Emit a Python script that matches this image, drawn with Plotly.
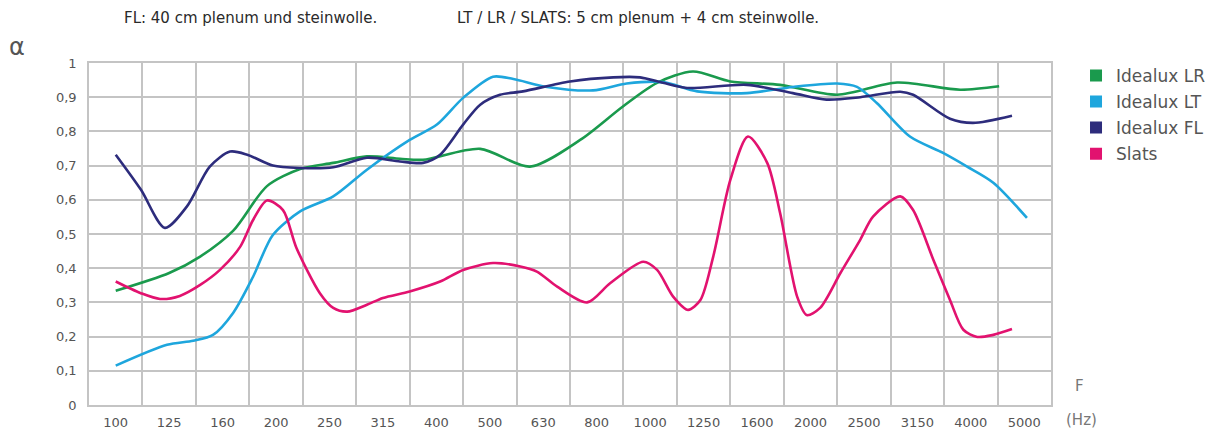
import plotly.graph_objects as go

# Frequency bands (Hz) shown on the x axis
bands = ["100", "125", "160", "200", "250", "315", "400", "500", "630", "800",
         "1000", "1250", "1600", "2000", "2500", "3150", "4000", "5000"]
alpha_ticks = [0, 0.1, 0.2, 0.3, 0.4, 0.5, 0.6, 0.7, 0.8, 0.9, 1]
alpha_labels = ["0", "0,1", "0,2", "0,3", "0,4", "0,5", "0,6", "0,7", "0,8", "0,9", "1"]

# Positions are in band units (0 = 100 Hz band, 1 = 125 Hz band, ...)
lr_x = [0, 1, 1.58, 2.2, 2.83, 3.45, 4.07, 4.7, 5.32, 5.75, 6.82, 7.75, 8.69, 9.49,
        10.13, 10.8, 11.5, 12.43, 13.5, 14.62, 15.8, 16.53]
lr_y = [0.334, 0.386, 0.434, 0.51, 0.64, 0.69, 0.708, 0.727, 0.72, 0.717, 0.749, 0.697,
        0.775, 0.873, 0.942, 0.975, 0.946, 0.936, 0.907, 0.943, 0.922, 0.932]

lt_x = [0, 0.96, 1.45, 1.82, 2.2, 2.57, 2.94, 3.45, 4.07, 4.7, 5.5, 6.01, 6.5, 7.06,
        7.44, 8.07, 8.93, 9.56, 10.24, 10.88, 11.81, 12.67, 13.5, 13.87, 14.24, 14.86,
        15.48, 15.93, 16.42, 17.05]
lt_y = [0.115, 0.176, 0.188, 0.205, 0.27, 0.375, 0.497, 0.566, 0.61, 0.688, 0.775, 0.82,
        0.898, 0.96, 0.953, 0.93, 0.92, 0.94, 0.944, 0.917, 0.912, 0.93, 0.94, 0.93,
        0.883, 0.785, 0.737, 0.697, 0.65, 0.547]

fl_x = [0, 0.47, 0.92, 1.33, 1.76, 2.14, 2.46, 2.94, 3.45, 4.07, 4.7, 5.32, 5.75, 6.07,
        6.5, 6.82, 7.19, 7.62, 8.5, 9.31, 9.81, 10.24, 10.69, 11.81, 12.67, 13.3, 13.93,
        14.68, 14.92, 15.61, 16.04, 16.77]
fl_y = [0.732, 0.63, 0.518, 0.58, 0.697, 0.741, 0.732, 0.70, 0.693, 0.695, 0.723, 0.712,
        0.708, 0.732, 0.82, 0.878, 0.907, 0.917, 0.946, 0.958, 0.958, 0.942, 0.927, 0.936,
        0.912, 0.893, 0.9, 0.916, 0.907, 0.837, 0.825, 0.846]

slats_x = [0, 0.47, 0.83, 1.2, 1.58, 1.95, 2.33, 2.57, 2.83, 3.13, 3.38, 3.82, 4.07,
           4.33, 4.7, 5.0, 5.5, 6.07, 6.5, 7.06, 7.57, 7.88, 8.26, 8.82, 9.25, 9.87, 10.13,
           10.43, 10.71, 10.94, 11.18, 11.5, 11.83, 12.19, 12.43, 12.75, 12.93, 13.18, 13.56,
           13.93, 14.17, 14.68, 14.92, 15.3, 15.61, 15.86, 16.12, 16.42, 16.77]
slats_y = [0.361, 0.327, 0.31, 0.319, 0.351, 0.395, 0.463, 0.541, 0.598, 0.57, 0.46,
           0.327, 0.284, 0.273, 0.293, 0.313, 0.332, 0.361, 0.395, 0.415, 0.405, 0.39, 0.346,
           0.30, 0.356, 0.419, 0.395, 0.317, 0.278, 0.307, 0.434, 0.658, 0.785, 0.708, 0.562,
           0.317, 0.263, 0.284, 0.386, 0.483, 0.551, 0.61, 0.57, 0.424, 0.307, 0.22, 0.199,
           0.205, 0.222]

series = [
    ("Idealux LR", lr_x, lr_y, "#1a9a4d"),
    ("Idealux LT", lt_x, lt_y, "#1ea6dd"),
    ("Idealux FL", fl_x, fl_y, "#2d2c7c"),
    ("Slats", slats_x, slats_y, "#e2126f"),
]

FONT = "DejaVu Sans, sans-serif"
GRID = "#c4c4c4"

fig = go.Figure()
for name, xs, ys, col in series:
    fig.add_trace(go.Scatter(x=xs, y=ys, mode="lines",
                             line=dict(color=col, width=2.6, shape="spline", smoothing=0.8),
                             showlegend=False, hoverinfo="skip"))
for name, xs, ys, col in series:
    fig.add_trace(go.Scatter(x=[None], y=[None], mode="markers", name=name, legendgroup=name,
                             marker=dict(symbol="square", size=12, color=col)))

fig.update_layout(
    width=1219, height=429,
    margin=dict(l=81, r=176, t=55, b=32, autoexpand=False),
    paper_bgcolor="white", plot_bgcolor="white",
    font=dict(family=FONT, color="#555555"),
    legend=dict(x=1.026, y=1.015, xanchor="left", yanchor="top",
                font=dict(size=17, color="#555555", family=FONT), itemwidth=30, tracegroupgap=1,
                bgcolor="rgba(0,0,0,0)"),
    showlegend=True,
)
fig.update_xaxes(
    range=[-0.5, len(bands) - 0.5], automargin=False,
    tickmode="array", tickvals=list(range(len(bands))), ticktext=bands,
    showgrid=False, zeroline=False, ticks="",
    tickfont=dict(size=13, color="#555555"), ticklabelstandoff=5,
    minor=dict(tick0=-0.5, dtick=1, showgrid=True, gridcolor=GRID, gridwidth=1.5, ticks=""),
    showline=True, linecolor=GRID, linewidth=1.5, mirror=True,
)
fig.update_yaxes(
    range=[0, 1], automargin=False,
    tickmode="array", tickvals=alpha_ticks, ticktext=alpha_labels,
    showgrid=True, gridcolor=GRID, gridwidth=1.5, zeroline=False, ticks="",
    tickfont=dict(size=13, color="#555555"), ticklabelstandoff=8,
    showline=True, linecolor=GRID, linewidth=1.5, mirror=True,
)

fig.add_annotation(xref="paper", yref="paper", x=-0.075, y=1.047, text="α", showarrow=False,
                   font=dict(size=24, color="#555555", family=FONT), xanchor="center", yanchor="middle")
fig.add_annotation(xref="paper", yref="paper", x=0.0343, y=1.132,
                   text="FL: 40 cm plenum und steinwolle.", showarrow=False,
                   font=dict(size=15, color="#2a2a2a", family=FONT), xanchor="left", yanchor="middle")
fig.add_annotation(xref="paper", yref="paper", x=0.3805, y=1.132,
                   text="LT / LR / SLATS: 5 cm plenum + 4 cm steinwolle.", showarrow=False,
                   font=dict(size=15, color="#2a2a2a", family=FONT), xanchor="left", yanchor="middle")
fig.add_annotation(xref="paper", yref="paper", x=1.030, y=0.056, text="F", showarrow=False,
                   font=dict(size=15, color="#777777", family=FONT), xanchor="center", yanchor="middle")
fig.add_annotation(xref="paper", yref="paper", x=1.032, y=-0.044, text="(Hz)", showarrow=False,
                   font=dict(size=15, color="#777777", family=FONT), xanchor="center", yanchor="middle")

fig.write_html("out.html")
